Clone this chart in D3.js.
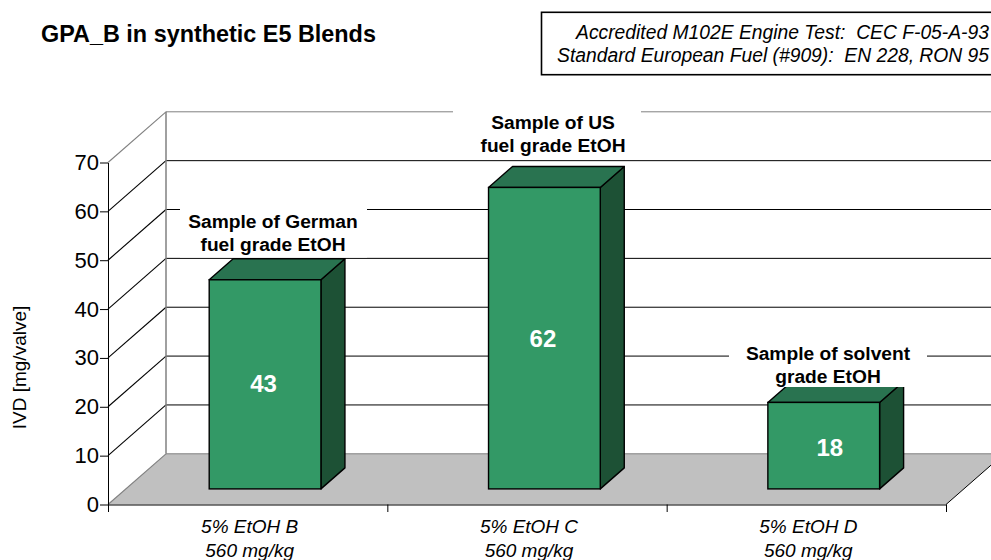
<!DOCTYPE html>
<html><head><meta charset="utf-8">
<script src="https://d3js.org/d3.v7.min.js"></script>
<style>html,body{margin:0;padding:0;background:#fff}svg{display:block}text{font-family:"Liberation Sans",Arial,sans-serif;white-space:pre}</style>
</head><body><svg id="c" width="991" height="560"></svg>
<script>
const categories = ["5% EtOH B","5% EtOH C","5% EtOH D"];
const subLabels = ["560 mg/kg","560 mg/kg","560 mg/kg"];
const values = [42.8,61.7,17.7];
const yTicks = [0,10,20,30,40,50,60,70];
const noteLines = ["Accredited M102E Engine Test:  CEC F-05-A-93","Standard European Fuel (#909):  EN 228, RON 95"];
const sampleLabels = [["Sample of German","fuel grade EtOH"],["Sample of US","fuel grade EtOH"],["Sample of solvent","grade EtOH"]];

const W=991,H=560;
const svg=d3.select("#c");
const y=d3.scaleLinear().domain([0,70]).range([504.5,162.5]);
const x=d3.scaleBand().domain(categories).range([108,946]).paddingInner(0.6).paddingOuter(0.3);
const depth={dx:58,dy:-50.7};
const bar={dx:24,dy:-21,ox:17.4,oy:-15.6};
const line=d3.line();
const clip=svg.append("defs").append("clipPath").attr("id","pg").append("rect").attr("width",W).attr("height",H);
const g=svg.append("g").attr("clip-path","url(#pg)");

// floor
g.append("path").attr("fill","#c0c0c0").attr("d",line([[108,y(0)],[946,y(0)],[946+depth.dx,y(0)+depth.dy],[108+depth.dx,y(0)+depth.dy]])+"Z");
// back grid + side-wall lines
yTicks.forEach(t=>{
  const yb=y(t)+depth.dy, col=(t===0||t===70)?"#808080":"#000";
  g.append("line").attr("x1",108).attr("y1",y(t)).attr("x2",108+depth.dx).attr("y2",yb).attr("stroke",col).attr("stroke-width",1.1);
  g.append("line").attr("x1",108+depth.dx).attr("y1",yb).attr("x2",W).attr("y2",yb).attr("stroke",(t===0||t===70)?"#808080":"#000").attr("stroke-width",1);
});
g.append("line").attr("x1",108+depth.dx).attr("x2",108+depth.dx).attr("y1",y(70)+depth.dy).attr("y2",y(0)+depth.dy).attr("stroke","#808080").attr("stroke-width",1.5);
g.append("line").attr("x1",946).attr("y1",y(0)).attr("x2",946+depth.dx).attr("y2",y(0)+depth.dy).attr("stroke","#000");

// axes
const axY=d3.axisLeft(y).tickValues(yTicks).tickSize(8).tickPadding(1).tickSizeOuter(0);
const ay=g.append("g").attr("transform","translate(108,0)").call(axY);
ay.selectAll("text").attr("font-size",22).attr("fill","#000");
ay.selectAll("line,path").attr("stroke","#000");
const xEdge=d3.scaleLinear().domain([0,3]).range([108,946]);
const axX=d3.axisBottom(xEdge).tickValues([0,1,2,3]).tickSize(7.5).tickFormat("").tickSizeOuter(0);
const ax=g.append("g").attr("transform",`translate(0,${y(0)})`).call(axX);
ax.selectAll("line,path").attr("stroke","#000");

// bars
const bars=g.selectAll("g.bar").data(values).join("g").attr("class","bar");
const X0=i=>x(categories[i])+bar.ox, bw=x.bandwidth(), base=y(0)+bar.oy;
const Yv=v=>y(v)+bar.oy;
const valueNudge=[[-1.5,8],[-1.5,9],[6,10]];
bars.append("path").attr("fill","#1d5135").attr("stroke","#000").attr("stroke-width",1.4).attr("stroke-linejoin","round")
 .attr("d",(d,i)=>line([[X0(i)+bw,Yv(d)],[X0(i)+bw+bar.dx,Yv(d)+bar.dy],[X0(i)+bw+bar.dx,base+bar.dy],[X0(i)+bw,base]])+"Z");
bars.append("path").attr("fill","#297350").attr("stroke","#000").attr("stroke-width",1.4).attr("stroke-linejoin","round")
 .attr("d",(d,i)=>line([[X0(i),Yv(d)],[X0(i)+bar.dx,Yv(d)+bar.dy],[X0(i)+bw+bar.dx,Yv(d)+bar.dy],[X0(i)+bw,Yv(d)]])+"Z");
bars.append("rect").attr("x",(d,i)=>X0(i)).attr("y",d=>Yv(d)).attr("width",bw).attr("height",d=>base-Yv(d))
 .attr("fill","#339966").attr("stroke","#000").attr("stroke-width",1.4);
bars.append("text").attr("x",(d,i)=>X0(i)+bw/2+valueNudge[i][0]).attr("y",(d,i)=>(Yv(d)+base)/2+valueNudge[i][1]).attr("text-anchor","middle")
 .attr("font-size",24).attr("font-weight","bold").attr("fill","#fff").text(d=>d3.format(".0f")(d));

// sample labels with white backing
const labelPos=[{x:273,y:228,l:180,r:367,t:205,b:257.5},{x:553,y:129,l:453,r:641,t:106,b:159},{x:828,y:360,l:729,r:927,t:340,b:387}];
sampleLabels.forEach((ls,i)=>{
  const p=labelPos[i];
  g.append("rect").attr("x",p.l).attr("y",p.t).attr("width",p.r-p.l).attr("height",p.b-p.t).attr("fill","#fff");
  ls.forEach((s,j)=>g.append("text").attr("x",p.x).attr("y",p.y+j*23).attr("text-anchor","middle")
    .attr("font-size",19.2).attr("font-weight","bold").attr("fill","#000").text(s));
});

// category labels
categories.forEach((c,i)=>{
  const cx=(xEdge(i)+xEdge(i+1))/2+2;
  g.append("text").attr("x",cx).attr("y",533).attr("text-anchor","middle").attr("font-size",19).attr("font-style","italic").text(c);
  g.append("text").attr("x",cx).attr("y",556.5).attr("text-anchor","middle").attr("font-size",19).attr("font-style","italic").text(subLabels[i]);
});

// y title
g.append("text").attr("transform","translate(26,367.5) rotate(-90)").attr("text-anchor","middle").attr("font-size",19).text("IVD [mg/valve]");
// title
g.append("text").attr("x",41).attr("y",42).attr("font-size",23.4).attr("font-weight","bold").text("GPA_B in synthetic E5 Blends");
// note box
g.append("rect").attr("x",541.5).attr("y",12.3).attr("width",460).attr("height",62.4).attr("fill","#fff").attr("stroke","#000").attr("stroke-width",1.6);
noteLines.forEach((s,i)=>g.append("text").attr("x",989).attr("y",39+i*22.7).attr("text-anchor","end")
  .attr("font-size",19.3).attr("font-style","italic").text(s));
</script></body></html>
